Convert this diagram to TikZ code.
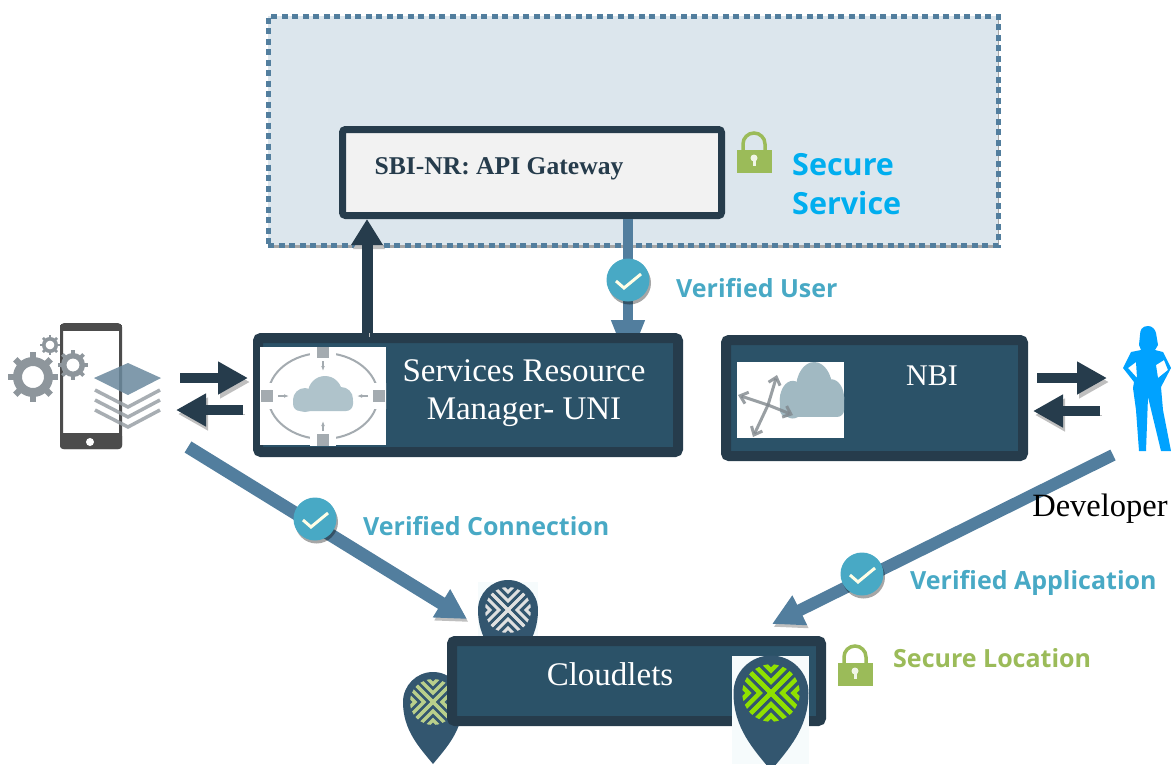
\documentclass[tikz,border=0pt]{standalone}
\usepackage{fontspec}
\setmainfont{Liberation Serif}
\newfontfamily\lblfont{Open Sans}
\usetikzlibrary{arrows.meta,shadows}
\definecolor{darkb}{HTML}{263C4C}
\definecolor{tealb}{HTML}{2B5268}
\definecolor{pinb}{HTML}{33566F}
\definecolor{steelb}{HTML}{527E9E}
\definecolor{paleb}{HTML}{DCE6ED}
\definecolor{chkb}{HTML}{48A9C5}
\definecolor{skyb}{HTML}{00AEEF}
\definecolor{okgreen}{HTML}{9BBB59}
\definecolor{limeg}{HTML}{8FE000}
\definecolor{icong}{HTML}{8E969C}
\definecolor{personb}{HTML}{00A2FF}
\tikzset{
	softshadow/.style={drop shadow={shadow xshift=1.5pt,shadow yshift=-3pt,opacity=0.35,fill=black}},
	panel/.style={draw=darkb,line width=10pt,fill=tealb,rounded corners=3pt,inner sep=0pt,softshadow},
	paneltxt/.style={text=white,font=\fontsize{33}{38}\selectfont,align=center},
	lbl/.style={font=\lblfont\bfseries\fontsize{25}{30}\selectfont,anchor=west,inner sep=0pt},
	chk/.style={circle,fill=chkb,minimum size=43pt,inner sep=0pt,softshadow,
		path picture={\draw[white!90!yellow,line width=3pt,shift={(path picture bounding box.center)}](-12,1)--(-4,8)--(13,-6);}},
	imgbox/.style={fill=white,inner sep=0pt},
	darkarr/.style={draw=darkb,line width=#1,preaction={draw=black!25,transform canvas={xshift=2pt,yshift=-4pt}}},
	bluearr/.style={draw=steelb,line width=#1,preaction={draw=black!25,transform canvas={xshift=1.5pt,yshift=-3pt}}},
	pics/lock/.style={code={
		\draw[okgreen,line width=3.5pt](-11,-2)--(-11,-8)arc(180:360:11)--(11,-2);
		\fill[okgreen](-17.5,-2)rectangle(17.5,21);
		\fill[white!85!okgreen](0,6)circle(3.5);
		\fill[white!85!okgreen](-1.5,6)rectangle(1.5,14);
	}},
	pics/pin/.style n args={3}{code={
		\fill[#1](-30,0)arc(180:360:30)..controls(30,28)and(14,45)..(0,62)..controls(-14,45)and(-30,28)..(-30,0)--cycle;
		\begin{scope}
			\clip(0,0)circle(23);
			\foreach \r in {0,90,180,270}
				\foreach \d in {0,9,18}
					\draw[#2,line width=#3,rotate=\r](-30,{-\d-30})--(0,-\d)--(30,{-\d-30});
		\end{scope}
	}},
	pics/cloud/.style={code={
		\fill[#1](-18,4)circle(12);
		\fill[#1](2,-3)circle(17);
		\fill[#1](18,3)circle(12);
		\fill[#1,rounded corners=7pt](-30,-2)rectangle(30,15);
	}}
}
\begin{document}
\begin{tikzpicture}[x=1pt,y=-1pt]
\useasboundingbox (0,0) rectangle (1171,764);

\node (service) at (633,130.5) [draw=steelb,fill=paleb,line width=5pt,dash pattern=on 6pt off 4.5pt,minimum width=730pt,minimum height=229pt,inner sep=0pt,drop shadow={shadow xshift=1pt,shadow yshift=-3pt,opacity=0.35,fill=black}] {};
\node (gateway) at (532,172.5) [draw=darkb,line width=7pt,fill=black!5,rounded corners=3pt,minimum width=379pt,minimum height=86pt,inner sep=0pt,softshadow] {};
\node (gatewaytxt) at (499,169) [text=darkb,font=\bfseries\fontsize{25.6}{30}\selectfont] {SBI-NR: API Gateway};
\pic at (754,152) {lock};
\node (secure) at (792,184) [lbl,text=skyb,font=\lblfont\bfseries\fontsize{30.5}{39}\selectfont,align=left] {Secure\\Service};

% phone, gears and layers
\node (phone) at (91,386) [draw=black!70,fill=white,line width=3pt,rounded corners=3pt,minimum width=59pt,minimum height=123pt,inner sep=0pt] {};
\fill[black!70,rounded corners=3pt](60,433)rectangle(122,449);
\fill[black!70](60,325)rectangle(122,331);
\fill[white](90,442)circle(4);
\foreach \x/\y/\r in {33/377/25,73/365/15,50/345/10}{
	\draw[icong,line width=\r*0.36pt](\x,\y)circle(\r*0.62);
	\foreach \a in {0,45,...,315}
		\draw[icong,line width=\r*0.25pt]([shift={(\x,\y)}]\a:\r*0.7)--([shift={(\x,\y)}]\a:\r);
}
\foreach \d in {32,22,12}
	\draw[icong!90!white,line width=3.5pt,opacity=0.85](95,{378+\d})--(128,{395+\d})--(160,{378+\d});
\fill[steelb!60!icong,opacity=0.85](94,378)--(128,363)--(161,378)--(128,395)--cycle;

% gateway to resource manager, head partly under the panel
\coordinate (userout) at (628,219);
\coordinate (userin) at (628,333);
\draw[bluearr=10pt,shorten >=-32pt,-{Triangle[length=45pt,width=31pt]}](userout)--(userin);
\node (chkuser) at (628,280) [chk] {};

% resource manager
\node (srm) at (468,395) [panel,minimum width=420pt,minimum height=114pt] {};
\node (srmimg) at (323,396) [imgbox,minimum width=126pt,minimum height=98pt] {};
\draw[icong!80!white,line width=2pt](srmimg)ellipse(55 and 43);
\begin{scope}
\clip(260,347)rectangle(386,445);
\foreach \x/\y in {323/352,323/440,267/396,379/396}{
	\fill[white](\x-13,\y-13)rectangle(\x+13,\y+13);
	\fill[icong!80!white](\x-6,\y-6)rectangle(\x+6,\y+6);
}
\end{scope}
\foreach \x/\y/\u/\v in {323/361/323/371,323/431/323/421,278/396/289/396,368/396/357/396}
	\draw[icong!80!white,line width=1.5pt,-{Latex[length=5pt]}](\x,\y)--(\u,\v);
\pic at (323,396) {cloud=chkb!30!icong!60!white};
\node (srmtxt) at (524,393) [paneltxt] {Services Resource\\Manager- UNI};

% nbi
\node (nbi) at (874.5,398) [panel,minimum width=297pt,minimum height=116pt] {};
\node (nbiimg) at (790.5,400) [imgbox,minimum width=107pt,minimum height=76pt] {};
\pic[xscale=1.07,yscale=1.57] at (812,393.4) {cloud=icong!70!chkb!70!white};
\coordinate (hub) at (768,405);
\foreach \x/\y in {777/375,793/415,738/395,753/437}
	\draw[icong!90!black,line width=3pt,opacity=0.8,-{Straight Barb[length=7pt,width=12pt]}](hub)--(\x,\y);
\node (nbitxt) at (932,376) [paneltxt,font=\fontsize{30}{38}\selectfont] {NBI};

% developer
\fill[personb,even odd rule](1148,326)..controls(1142,326)and(1140,330)..(1140,335)
	--(1139,345)--(1141,350)--(1131,352)--(1123,368)--(1134,382)--(1133,388)--(1136,410)
	--(1139,451)--(1146,451)--(1148,397)--(1161,451)--(1171,451)--(1163,410)--(1161,387)
	--(1171,368)--(1163,352)--(1155,350)--(1158,345)--(1156,333)..controls(1155,329)and(1152,326)..(1148,326)--cycle
	(1128,368)--(1136,362)--(1137,378)--cycle
	(1156,365)--(1164,360)--(1168,370)--(1158,378)--cycle;

% pins behind the cloudlet box
\fill[white!95!chkb](478,582)rectangle(538,640);
\pic at (508,610) {pin={pinb}{black!12!white}{3pt}};
\pic at (433,702) {pin={pinb}{okgreen!70!white}{3.5pt}};
\node (cloudlets) at (636.5,681) [panel,minimum width=369pt,minimum height=80pt] {};
\node (cloudtxt) at (610,674) [paneltxt] {Cloudlets};
\fill[white!95!chkb](732,656)rectangle(809,764);
\pic[scale=1.25] at (771,693) {pin={pinb}{limeg}{4.5pt}};
\pic at (855,665) {lock};

% connectors
\coordinate (phoneout) at (180,378);
\coordinate (srmin) at (248,378);
\coordinate (srmout) at (243,410);
\coordinate (phonein) at (176,410);
\coordinate (nbiout) at (1037,378);
\coordinate (devin) at (1107,378);
\coordinate (devout) at (1100,411);
\coordinate (nbiin) at (1033,411);
\foreach \a/\b in {phoneout/srmin,srmout/phonein,nbiout/devin,devout/nbiin}
	\draw[darkarr=10pt,-{Triangle[length=30pt,width=31pt]}](\a)--(\b);
\draw[darkarr=11pt,-{Triangle[length=26pt,width=30pt]}](srm.north -| 367,0)--(gateway.south -| 367,0);
\coordinate (connstart) at (188,447);
\coordinate (connend) at (467,619);
\coordinate (appstart) at (1113,455);
\coordinate (append) at (772,624);
\draw[bluearr=13pt,-{Triangle[length=30pt,width=31pt]}](connstart)--(connend);
\draw[bluearr=12pt,-{Triangle[length=31pt,width=31pt]}](appstart)--(append);
\node (chkconn) at (315,519) [chk] {};
\node (chkapp) at (862,574) [chk] {};

\node (devtxt) at (1100,509) [font=\fontsize{32.5}{34}\selectfont] {Developer};
\node (userlbl) at (676,288) [lbl,text=chkb] {Verified User};
\node (connlbl) at (363,526) [lbl,text=chkb] {Verified Connection};
\node (applbl) at (910,583) [lbl,text=chkb] {Verified Application};
\node (loclbl) at (893,658) [lbl,text=okgreen] {Secure Location};
\end{tikzpicture}
\end{document}
